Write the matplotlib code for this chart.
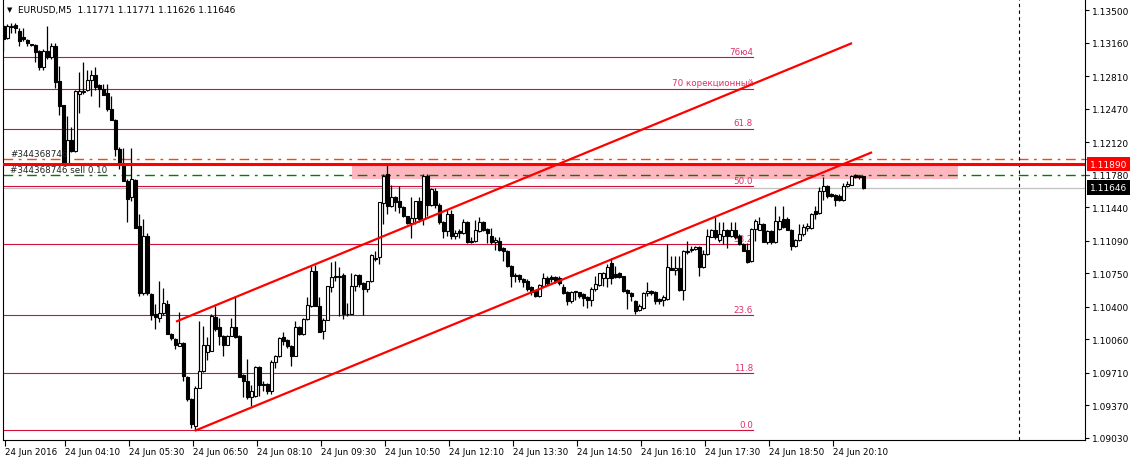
import numpy as np
import matplotlib.pyplot as plt
import matplotlib.transforms as mtransforms
from matplotlib.patches import Rectangle

plt.rcParams['font.family'] = ['DejaVu Sans']

# свечи EURUSD M5 (по картинке)
opens = [
    1.1333, 1.1321, 1.1332, 1.1334, 1.1328, 1.1322, 1.1319, 1.1314, 1.1313, 1.1307,
    1.1291, 1.1307, 1.1301, 1.1312, 1.1276, 1.1251, 1.1190, 1.1214, 1.1203, 1.1262,
    1.1264, 1.1266, 1.1277, 1.1282, 1.1272, 1.1267, 1.1263, 1.1247, 1.1235, 1.1205,
    1.1190, 1.1171, 1.1155, 1.1172, 1.1124, 1.1054, 1.1114, 1.1053, 1.1032, 1.1028,
    1.1034, 1.1043, 1.1012, 1.1006, 1.0999, 1.1002, 1.0967, 1.0944, 1.0916, 1.0955,
    1.0973, 1.0993, 1.0994, 1.1029, 1.1019, 1.1010, 1.1000, 1.1010, 1.1019, 1.1010,
    1.0969, 1.0962, 1.0946, 1.0947, 1.0977, 1.0959, 1.0959, 1.0952, 1.0982, 1.0989,
    1.1009, 1.1005, 1.0999, 1.0989, 1.1019, 1.1012, 1.1027, 1.1041, 1.1077, 1.1041,
    1.1015, 1.1026, 1.1061, 1.1071, 1.1072, 1.1073, 1.1033, 1.1032, 1.1062, 1.1073,
    1.1065, 1.1059, 1.1067, 1.1090, 1.1092, 1.1148, 1.1179, 1.1145, 1.1155, 1.1150,
    1.1144, 1.1135, 1.1128, 1.1133, 1.1150, 1.1132, 1.1177, 1.1146, 1.1161, 1.1146,
    1.1129, 1.1119, 1.1137, 1.1114, 1.1119, 1.1117, 1.1129, 1.1108, 1.1109, 1.1119,
    1.1129, 1.1121, 1.1114, 1.1108, 1.1109, 1.1101, 1.1098, 1.1083, 1.1073, 1.1073,
    1.1069, 1.1067, 1.1061, 1.1057, 1.1051, 1.1062, 1.1070, 1.1071, 1.1071, 1.1070,
    1.1061, 1.1056, 1.1046, 1.1055, 1.1055, 1.1053, 1.1050, 1.1047, 1.1059, 1.1063,
    1.1070, 1.1070, 1.1086, 1.1074, 1.1075, 1.1072, 1.1058, 1.1054, 1.1046, 1.1037,
    1.1039, 1.1054, 1.1057, 1.1056, 1.1048, 1.1047, 1.1048, 1.1081, 1.1078, 1.1081,
    1.1058, 1.1097, 1.1099, 1.1100, 1.1102, 1.1082, 1.1095, 1.1113, 1.1120, 1.1110,
    1.1114, 1.1120, 1.1114, 1.1120, 1.1114, 1.1106, 1.1099, 1.1088, 1.1121, 1.1120,
    1.1127, 1.1108, 1.1119, 1.1108, 1.1121, 1.1132, 1.1132, 1.1120, 1.1103, 1.1110,
    1.1116, 1.1122, 1.1122, 1.1140, 1.1138, 1.1161, 1.1166, 1.1158, 1.1157, 1.1156,
    1.1152, 1.1166, 1.1167, 1.1178, 1.1177, 1.11771]
highs = [
    1.1335, 1.1335, 1.1336, 1.1336, 1.1331, 1.1331, 1.1320, 1.1315, 1.1314, 1.1308,
    1.1309, 1.1333, 1.1316, 1.1316, 1.1292, 1.1251, 1.1239, 1.1228, 1.1266, 1.1285,
    1.1296, 1.1287, 1.1287, 1.1291, 1.1273, 1.1273, 1.1273, 1.1260, 1.1236, 1.1207,
    1.1206, 1.1173, 1.1206, 1.1174, 1.1137, 1.1132, 1.1117, 1.1054, 1.1043, 1.1067,
    1.1060, 1.1047, 1.1013, 1.1007, 1.1035, 1.1003, 1.0968, 1.0945, 1.0957, 1.1025,
    1.1020, 1.1009, 1.1033, 1.1041, 1.1028, 1.1011, 1.1011, 1.1028, 1.1051, 1.1011,
    1.0970, 1.0985, 1.0958, 1.0978, 1.0978, 1.0962, 1.0960, 1.0984, 1.0990, 1.1009,
    1.1014, 1.1006, 1.1000, 1.1025, 1.1020, 1.1028, 1.1050, 1.1083, 1.1084, 1.1050,
    1.1028, 1.1062, 1.1087, 1.1088, 1.1082, 1.1075, 1.1044, 1.1075, 1.1074, 1.1074,
    1.1066, 1.1067, 1.1095, 1.1098, 1.1150, 1.1179, 1.1188, 1.1167, 1.1156, 1.1166,
    1.1145, 1.1135, 1.1155, 1.1151, 1.1155, 1.1179, 1.1179, 1.1164, 1.1164, 1.1148,
    1.1130, 1.1141, 1.1141, 1.1120, 1.1121, 1.1132, 1.1130, 1.1113, 1.1131, 1.1134,
    1.1130, 1.1122, 1.1122, 1.1113, 1.1113, 1.1102, 1.1099, 1.1084, 1.1075, 1.1074,
    1.1070, 1.1069, 1.1062, 1.1058, 1.1064, 1.1075, 1.1072, 1.1073, 1.1072, 1.1072,
    1.1064, 1.1057, 1.1057, 1.1057, 1.1056, 1.1054, 1.1051, 1.1061, 1.1072, 1.1075,
    1.1076, 1.1085, 1.1091, 1.1083, 1.1076, 1.1072, 1.1059, 1.1055, 1.1047, 1.1043,
    1.1055, 1.1066, 1.1058, 1.1057, 1.1049, 1.1052, 1.1106, 1.1093, 1.1093, 1.1093,
    1.1099, 1.1109, 1.1103, 1.1103, 1.1104, 1.1099, 1.1121, 1.1121, 1.1134, 1.1129,
    1.1129, 1.1121, 1.1129, 1.1129, 1.1116, 1.1107, 1.1107, 1.1122, 1.1132, 1.1134,
    1.1128, 1.1120, 1.1120, 1.1145, 1.1135, 1.1145, 1.1134, 1.1121, 1.1111, 1.1126,
    1.1126, 1.1128, 1.1138, 1.1145, 1.1165, 1.1176, 1.1167, 1.1159, 1.1158, 1.1158,
    1.1169, 1.1171, 1.1178, 1.1179, 1.1178, 1.11771]
lows = [
    1.1307, 1.1320, 1.1326, 1.1326, 1.1312, 1.1318, 1.1312, 1.1312, 1.1296, 1.1287,
    1.1287, 1.1299, 1.1299, 1.1269, 1.1240, 1.1188, 1.1188, 1.1202, 1.1202, 1.1242,
    1.1262, 1.1265, 1.1260, 1.1266, 1.1249, 1.1261, 1.1245, 1.1235, 1.1198, 1.1184,
    1.1171, 1.1129, 1.1151, 1.1122, 1.1051, 1.1052, 1.1052, 1.1026, 1.1017, 1.1024,
    1.1031, 1.1012, 1.1005, 1.0996, 1.0999, 1.0962, 1.0942, 1.0913, 1.0911, 1.0955,
    1.0972, 1.0984, 1.0994, 1.1015, 1.1000, 1.0989, 1.1000, 1.1010, 1.1007, 1.0967,
    1.0946, 1.0944, 1.0936, 1.0946, 1.0947, 1.0952, 1.0949, 1.0949, 1.0976, 1.0988,
    1.1000, 1.0997, 1.0978, 1.0989, 1.1011, 1.1011, 1.1026, 1.1040, 1.1041, 1.1014,
    1.1006, 1.1026, 1.1056, 1.1067, 1.1030, 1.1027, 1.1030, 1.1032, 1.1057, 1.1061,
    1.1031, 1.1056, 1.1066, 1.1088, 1.1085, 1.1127, 1.1137, 1.1144, 1.1140, 1.1138,
    1.1134, 1.1127, 1.1112, 1.1127, 1.1129, 1.1125, 1.1135, 1.1145, 1.1143, 1.1127,
    1.1112, 1.1114, 1.1111, 1.1111, 1.1112, 1.1116, 1.1107, 1.1107, 1.1108, 1.1118,
    1.1119, 1.1107, 1.1106, 1.1099, 1.1098, 1.1088, 1.1082, 1.1061, 1.1066, 1.1066,
    1.1061, 1.1057, 1.1052, 1.1050, 1.1050, 1.1062, 1.1063, 1.1066, 1.1065, 1.1063,
    1.1053, 1.1042, 1.1044, 1.1047, 1.1049, 1.1041, 1.1039, 1.1041, 1.1057, 1.1062,
    1.1062, 1.1061, 1.1064, 1.1070, 1.1070, 1.1056, 1.1038, 1.1046, 1.1033, 1.1036,
    1.1038, 1.1051, 1.1052, 1.1043, 1.1043, 1.1041, 1.1047, 1.1078, 1.1073, 1.1057,
    1.1047, 1.1095, 1.1097, 1.1099, 1.1072, 1.1081, 1.1094, 1.1113, 1.1111, 1.1108,
    1.1106, 1.1101, 1.1113, 1.1111, 1.1105, 1.1098, 1.1086, 1.1087, 1.1109, 1.1120,
    1.1108, 1.1106, 1.1106, 1.1107, 1.1120, 1.1122, 1.1120, 1.1099, 1.1102, 1.1109,
    1.1114, 1.1119, 1.1121, 1.1132, 1.1137, 1.1152, 1.1154, 1.1155, 1.1145, 1.1151,
    1.1151, 1.1165, 1.1167, 1.1175, 1.1174, 1.11626]
closes = [
    1.1320, 1.1333, 1.1333, 1.1331, 1.1318, 1.1320, 1.1316, 1.1313, 1.1306, 1.1291,
    1.1307, 1.1301, 1.1312, 1.1275, 1.1250, 1.1190, 1.1214, 1.1203, 1.1265, 1.1265,
    1.1265, 1.1277, 1.1282, 1.1270, 1.1267, 1.1261, 1.1247, 1.1235, 1.1205, 1.1189,
    1.1171, 1.1153, 1.1174, 1.1122, 1.1054, 1.1114, 1.1054, 1.1031, 1.1029, 1.1034,
    1.1044, 1.1012, 1.1007, 1.1000, 1.1002, 1.0968, 1.0944, 1.0918, 1.0955, 1.0973,
    1.1000, 1.1000, 1.1030, 1.1017, 1.1010, 1.1000, 1.1010, 1.1019, 1.1009, 1.0967,
    1.0962, 1.0946, 1.0952, 1.0977, 1.0958, 1.0958, 1.0952, 1.0982, 1.0989, 1.1007,
    1.1004, 1.0999, 1.0989, 1.1019, 1.1012, 1.1027, 1.1042, 1.1077, 1.1041, 1.1014,
    1.1026, 1.1062, 1.1071, 1.1072, 1.1071, 1.1032, 1.1032, 1.1062, 1.1073, 1.1064,
    1.1059, 1.1067, 1.1094, 1.1091, 1.1149, 1.1177, 1.1145, 1.1155, 1.1150, 1.1144,
    1.1135, 1.1128, 1.1133, 1.1150, 1.1132, 1.1177, 1.1146, 1.1163, 1.1146, 1.1129,
    1.1119, 1.1137, 1.1114, 1.1117, 1.1117, 1.1129, 1.1108, 1.1109, 1.1120, 1.1129,
    1.1120, 1.1117, 1.1108, 1.1110, 1.1099, 1.1098, 1.1083, 1.1072, 1.1072, 1.1069,
    1.1066, 1.1059, 1.1055, 1.1051, 1.1063, 1.1070, 1.1065, 1.1069, 1.1067, 1.1065,
    1.1054, 1.1046, 1.1056, 1.1056, 1.1051, 1.1049, 1.1047, 1.1059, 1.1064, 1.1075,
    1.1075, 1.1082, 1.1070, 1.1071, 1.1071, 1.1057, 1.1054, 1.1051, 1.1036, 1.1041,
    1.1054, 1.1057, 1.1054, 1.1046, 1.1046, 1.1050, 1.1082, 1.1078, 1.1081, 1.1058,
    1.1098, 1.1098, 1.1100, 1.1102, 1.1082, 1.1095, 1.1114, 1.1120, 1.1113, 1.1116,
    1.1120, 1.1114, 1.1120, 1.1113, 1.1106, 1.1098, 1.1087, 1.1121, 1.1130, 1.1127,
    1.1108, 1.1119, 1.1108, 1.1130, 1.1130, 1.1123, 1.1120, 1.1103, 1.1110, 1.1116,
    1.1123, 1.1124, 1.1137, 1.1137, 1.1161, 1.1166, 1.1156, 1.1156, 1.1152, 1.1152,
    1.1166, 1.1168, 1.1177, 1.1176, 1.1176, 1.11646]

# подписи оси времени (номер бара -> время)
label_bars = [0, 15, 31, 47, 63, 79, 95, 111, 127, 143, 159, 175, 191, 207]
time_labels = ['24 Jun 2016', '24 Jun 04:10', '24 Jun 05:30', '24 Jun 06:50',
               '24 Jun 08:10', '24 Jun 09:30', '24 Jun 10:50', '24 Jun 12:10',
               '24 Jun 13:30', '24 Jun 14:50', '24 Jun 16:10', '24 Jun 17:30',
               '24 Jun 18:50', '24 Jun 20:10']
price_ticks = [1.13500, 1.13160, 1.12810, 1.12470, 1.12120, 1.11780, 1.11440,
               1.11090, 1.10750, 1.10400, 1.10060, 1.09710, 1.09370, 1.09030]

# уровни Фибоначчи
fib_low = 1.0911
fib_high = 1.1421
fib_levels = [0.0, 11.8, 23.6, 38.2, 50.0, 61.8, 70.0, 76.4]
fib_texts = ['0.0', '11.8', '23.6', '38.2', '50.0', '61.8', '70 корекционный', '76ю4']
fib_end_bar = 187.4

# канал
upper_bars = [43.4, 211.9]
upper_prices = [1.1025, 1.1315]
lower_bars = [48.1, 216.9]
lower_prices = [1.0911, 1.1201]

# ордер и линии
hline_price = 1.11890
sl_price = 1.11945
entry_price = 1.11780
bid_price = 1.11646
zone_bars = [87.1, 238.6]
zone_prices = [1.1174, 1.1189]
vline_bar = 253.9
ticket = '#344368746'

W, H = 1133, 464
fig = plt.figure(figsize=(W / 100, H / 100), dpi=100)
ax = fig.add_axes([2.5 / W, 23 / H, 1082.5 / W, 441 / H])
ax.set_xlim(-0.25, 270.4)
ax.set_ylim(1.09009, 1.13615)

o = np.array(opens)
h = np.array(highs)
l = np.array(lows)
c = np.array(closes)
x = np.arange(len(o))
up = c >= o

# свечи
ax.vlines(x, l, h, color='black', lw=0.9, zorder=3)
ax.bar(x[up], c[up] - o[up], bottom=o[up], width=0.55, facecolor='white',
       edgecolor='black', linewidth=0.8, zorder=4)
ax.bar(x[~up], o[~up] - c[~up], bottom=c[~up], width=0.55, facecolor='black',
       edgecolor='black', linewidth=0.8, zorder=4)

# фибо
rng = fib_high - fib_low
for lev, txt in zip(fib_levels, fib_texts):
    p = fib_low + rng * lev / 100
    ax.plot([-1, fib_end_bar], [p, p], color='#d0103a', lw=0.8, zorder=1)
    ax.text(fib_end_bar, p + 0.00012, txt, ha='right', va='bottom', color='#e0306a',
            fontsize=6.3, zorder=1)

# зона
ax.add_patch(Rectangle((zone_bars[0], zone_prices[0]), zone_bars[1] - zone_bars[0],
                       zone_prices[1] - zone_prices[0], facecolor='#ffb6c1',
                       edgecolor='none', zorder=0.5))

# горизонтальные линии
ax.axhline(bid_price, color='#c0c0c0', lw=0.9, zorder=1.5)
ax.axhline(sl_price, color='#ff4500', lw=1.0, ls=(0, (7, 4, 2, 4)), zorder=2)
ax.axhline(entry_price, color='#008000', lw=1.0, ls=(0, (7, 4, 2, 4)), zorder=2)
ax.axhline(hline_price, color='red', lw=2.2, zorder=5)
ax.axvline(vline_bar, color='black', lw=0.8, ls=(0, (3, 3)), zorder=2)

# канал
ax.plot(upper_bars, upper_prices, color='red', lw=1.6, zorder=6)
ax.plot(lower_bars, lower_prices, color='red', lw=1.6, zorder=6)

# подписи ордера
ax.text(1.6, sl_price + 0.00005, ticket, va='bottom', ha='left', fontsize=6.3, color='#222222', zorder=7)
ax.text(1.6, entry_price + 0.00005, ticket + ' sell 0.10', va='bottom', ha='left',
        fontsize=6.3, color='#222222', zorder=7)

# оси
ax.spines['top'].set_visible(False)
for s in ['left', 'right', 'bottom']:
    ax.spines[s].set_linewidth(0.8)
ax.yaxis.tick_right()
ax.set_yticks(price_ticks)
ax.set_yticklabels(['%.5f' % p for p in price_ticks])
ax.tick_params(axis='y', direction='out', length=3, width=0.8, labelsize=6.5, pad=2)
ax.set_xticks(np.array(label_bars) + 0.4)
ax.set_xticklabels(time_labels)
for lbl in ax.get_xticklabels():
    lbl.set_ha('left')
ax.tick_params(axis='x', direction='out', length=4, width=0.8, labelsize=6.3, pad=1)

trans = mtransforms.blended_transform_factory(ax.transAxes, ax.transData)
ax.text(1.0 + 5 / 1082.5, hline_price, '%.5f' % hline_price, transform=trans,
        ha='left', va='center', color='white', fontsize=6.5,
        bbox=dict(boxstyle='square,pad=0.3', fc='red', ec='none'))
ax.text(1.0 + 5 / 1082.5, bid_price, '%.5f' % bid_price, transform=trans,
        ha='left', va='center', color='white', fontsize=6.5,
        bbox=dict(boxstyle='square,pad=0.3', fc='black', ec='none'))
ax.plot([0.998, 1.004], [sl_price, sl_price], transform=trans, color='#ff4500',
        lw=0.8, clip_on=False)
ax.plot([0.998, 1.004], [entry_price, entry_price], transform=trans, color='#008000',
        lw=0.8, clip_on=False)

# заголовок
fig.text(7 / W, 1 - 10 / H, '▼', fontsize=5, va='center', ha='left')
fig.text(18 / W, 1 - 10 / H, 'EURUSD,M5  %.5f %.5f %.5f %.5f' % (opens[-1], highs[-1], lows[-1], closes[-1]),
         fontsize=6.5, va='center', ha='left')

fig.savefig('out.png', dpi=100)
